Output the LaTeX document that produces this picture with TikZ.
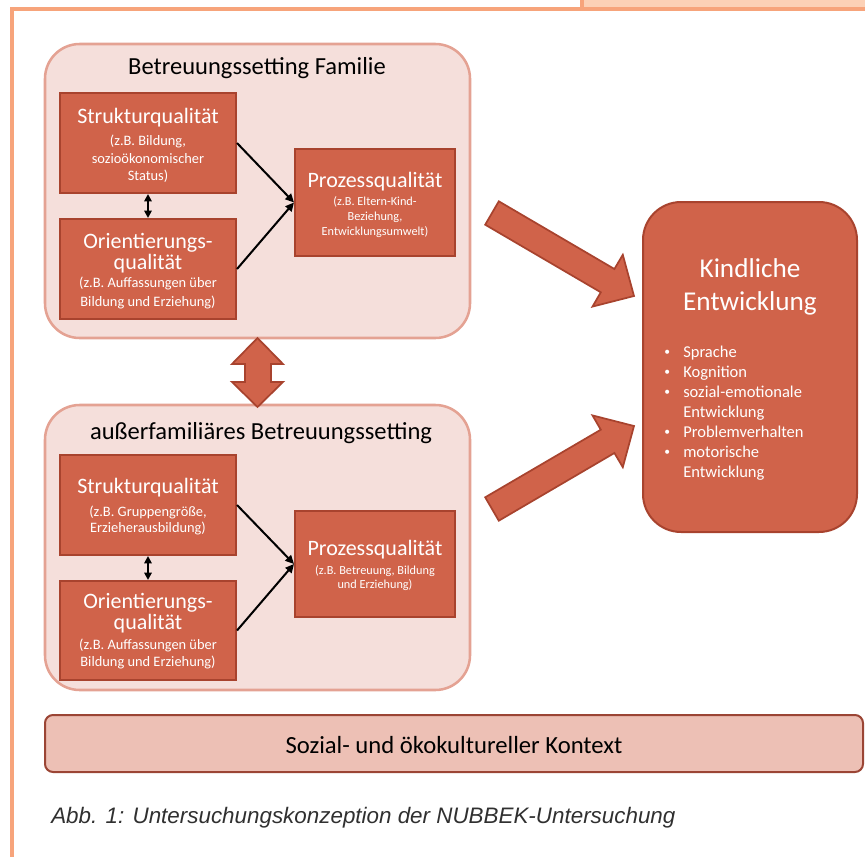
\documentclass[tikz,border=0pt]{standalone}
\usepackage{fontspec}
\setmainfont{Carlito}
\newfontfamily\capfont{Liberation Sans}
\usetikzlibrary{arrows.meta}
\definecolor{frameor}{HTML}{F7A47B}
\definecolor{peach}{HTML}{FCD1B6}
\definecolor{setfill}{HTML}{F5DFDB}
\definecolor{setbd}{HTML}{E4A293}
\definecolor{qfill}{HTML}{D0634A}
\definecolor{qbd}{HTML}{A8432E}
\definecolor{ctxfill}{HTML}{EDC0B5}
\definecolor{ctxbd}{HTML}{9B4535}
\definecolor{captxt}{HTML}{303030}
\newcommand{\kbul}{\makebox[14.25pt][l]{\raisebox{0.25ex}{\scalebox{0.7}{•}}}}
\newcommand{\knob}{\makebox[14.25pt][l]{}}
\begin{document}
\begin{tikzpicture}[x=0.75pt,y=-0.75pt,
  setbox/.style={draw=setbd, fill=setfill, line width=1.9pt, rounded corners=26pt, inner sep=0pt},
  qbox/.style={draw=qbd, fill=qfill, line width=1.5pt, inner sep=0pt, minimum width=132pt, minimum height=75pt},
  pbox/.style={draw=qbd, fill=qfill, line width=1.5pt, inner sep=0pt, minimum width=120pt},
  settitle/.style={inner sep=0pt, font=\fontsize{18.4}{22}\selectfont},
  qtitle/.style={inner sep=0pt, text=white, align=center, font=\fontsize{16.5}{15.75}\selectfont},
  qsub/.style={inner sep=0pt, text=white, align=center, font=\fontsize{10.8}{13}\selectfont},
  psub/.style={inner sep=0pt, text=white, align=center, font=\fontsize{9.2}{11.25}\selectfont},
  conn/.style={line width=1.5pt, -{Triangle[length=6.5pt,width=6pt]}},
  dconn/.style={line width=1.5pt, {Triangle[length=5.5pt,width=5.5pt]}-{Triangle[length=5.5pt,width=5.5pt]}},
  bigarrow/.style={fill=qfill, draw=qbd, line width=1.3pt, line join=miter}
]
\useasboundingbox (0,0) rectangle (865,857);
% frame
\fill[peach] (582,0) rectangle (865,8);
\draw[frameor, line width=3pt] (582,0) -- (582,9);
\draw[frameor, line width=3pt] (12,857) -- (12,9) -- (865,9);

% setting boxes
\node[setbox, minimum width=318.75pt, minimum height=220.5pt] (fam) at (257.5,191) {};
\node[setbox, minimum width=318.75pt, minimum height=213.75pt] (ext) at (257.5,547.5) {};
\node[settitle] (famt) at (257,68) {Betreuungssetting Familie};
\node[settitle] (extt) at (261,433) {außerfamiliäres Betreuungssetting};

% family quality boxes
\node[qbox] (s1) at (148,143) {};
\node[qbox] (o1) at (148,269) {};
\node[pbox, minimum height=80.25pt] (p1) at (375,202.5) {};
\node[qtitle] at (148,118) {Strukturqualität};
\node[qsub] at (148,159) {(z.B. Bildung,\\sozioökonomischer\\Status)};
\node[qtitle] at (148,253) {Orientierungs-\\qualität};
\node[qsub, font=\fontsize{10.8}{14.25}\selectfont] at (148,292.5) {(z.B. Auffassungen über\\Bildung und Erziehung)};
\node[qtitle] at (375,182) {Prozessqualität};
\node[psub] at (375,217) {(z.B. Eltern-Kind-\\Beziehung,\\Entwicklungsumwelt)};

% external quality boxes
\node[qbox] (s2) at (148,505) {};
\node[qbox, minimum height=74.25pt] (o2) at (148,630.5) {};
\node[pbox, minimum height=79.5pt] (p2) at (375,564) {};
\node[qtitle] at (148,488) {Strukturqualität};
\node[qsub, font=\fontsize{10.8}{12}\selectfont] at (148,520) {(z.B. Gruppengröße,\\Erzieherausbildung)};
\node[qtitle] at (148,613) {Orientierungs-\\qualität};
\node[qsub, font=\fontsize{10.8}{12.75}\selectfont] at (148,653.5) {(z.B. Auffassungen über\\Bildung und Erziehung)};
\node[qtitle] at (375,550) {Prozessqualität};
\node[psub, font=\fontsize{9.2}{10.9}\selectfont] at (375,578) {(z.B. Betreuung, Bildung\\und Erziehung)};

% connectors
\draw[conn] (s1.east) -- (p1.west);
\draw[conn] (o1.east) -- (p1.west);
\draw[dconn] (s1.south) -- (o1.north);
\draw[conn] (s2.east) -- (p2.west);
\draw[conn] (o2.east) -- (p2.west);
\draw[dconn] (s2.south) -- (o2.north);

% vertical double arrow
\draw[bigarrow] (257.5,338) -- (283,364) -- (271,364) -- (271,382) -- (283,382) -- (257.5,407)
  -- (232,382) -- (245,382) -- (245,364) -- (232,364) -- cycle;

% Kindliche Entwicklung
\node[draw=qbd, fill=qfill, line width=1.5pt, rounded corners=28.5pt, minimum width=160.5pt, minimum height=247.5pt, inner sep=0pt] (kind) at (750,367) {};
\node[inner sep=0pt, text=white, align=center, font=\fontsize{20.4}{24.4}\selectfont] at (750,287) {Kindliche\\Entwicklung};
\node[anchor=west, inner sep=0pt, text=white, align=left, font=\fontsize{12.4}{15}\selectfont] at (664,413)
  {\kbul Sprache\\
   \kbul Kognition\\
   \kbul sozial-emotionale\\
   \knob Entwicklung\\
   \kbul Problemverhalten\\
   \kbul motorische\\
   \knob Entwicklung};

% big arrows
\draw[bigarrow] (485.2,224.7) -- (498.8,201.3) -- (614.4,269) -- (622.8,254.8) -- (634,296)
  -- (592.5,306.6) -- (600.8,292.3) -- cycle;
\draw[bigarrow] (485.2,497.3) -- (498.8,520.7) -- (614.4,453) -- (622.8,467.2) -- (634,426)
  -- (592.5,415.4) -- (600.8,429.7) -- cycle;

% context
\node[draw=ctxbd, fill=ctxfill, line width=1.5pt, rounded corners=6pt, minimum width=613.5pt, minimum height=42.75pt, inner sep=0pt] (ctx) at (454,743.5) {};
\node[inner sep=0pt, font=\fontsize{18.5}{22}\selectfont] at (454,745) {Sozial- und ökokultureller Kontext};

% caption
\node[anchor=west, inner sep=0pt, text=captxt, font=\capfont\itshape\fontsize{16.8}{20}\selectfont] (cap) at (51,818) {Abb. 1: Untersuchungskonzeption der NUBBEK-Untersuchung};
\end{tikzpicture}
\end{document}
